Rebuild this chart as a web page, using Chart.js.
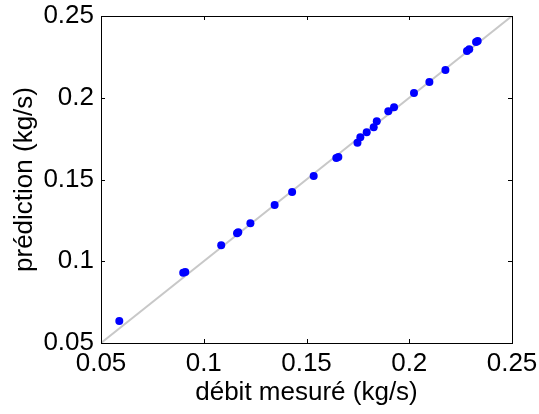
<!DOCTYPE html>
<html lang="fr">
<head>
<meta charset="UTF-8">
<title>prédiction vs débit mesuré</title>
<script src="https://cdn.jsdelivr.net/npm/chart.js"></script>
<style>
    body{margin:0; background:#fff;}
    #wrap{width:539px; height:414px;}
</style>
</head>
<body>
<div id="wrap"><canvas id="myChart" width="539" height="414"></canvas></div>
<script>
// débit mesuré (kg/s) / prédiction (kg/s)
const measured = [0.0589, 0.0900, 0.0910, 0.1085, 0.1162, 0.1168, 0.1227, 0.1345, 0.1430, 0.1535,
                  0.1645, 0.1655, 0.1748, 0.1762, 0.1793, 0.1827, 0.1842, 0.1898, 0.1926, 0.2023,
                  0.2098, 0.2176, 0.2281, 0.2292, 0.2325, 0.2333];
const predicted = [0.0635, 0.0930, 0.0934, 0.1098, 0.1171, 0.1177, 0.1232, 0.1344, 0.1424, 0.1521,
                   0.1632, 0.1638, 0.1725, 0.1758, 0.1789, 0.1819, 0.1856, 0.1917, 0.1942, 0.2029,
                   0.2096, 0.2170, 0.2286, 0.2296, 0.2341, 0.2347];
// droite y = x
const diagX = [0.05, 0.25];
const diagY = [0.05, 0.25];
const tickVals = [0.05, 0.1, 0.15, 0.2, 0.25];
const tickLabels = ['0.05', '0.1', '0.15', '0.2', '0.25'];

const FONT = {family: "'Liberation Sans', Arial, Helvetica, sans-serif", size: 26};

function setTicks(scale){
    scale.ticks = tickVals.map(v => ({value: v}));
}
function tickLabel(v){
    const i = tickVals.findIndex(t => Math.abs(t - v) < 1e-9);
    return i >= 0 ? tickLabels[i] : '';
}

// cadre + graduations vers l'intérieur (style matlab)
const boxPlugin = {
    id: 'box',
    afterDraw(chart){
        const {ctx, chartArea: a, scales} = chart;
        ctx.save();
        ctx.strokeStyle = '#000';
        ctx.lineWidth = 1;
        ctx.strokeRect(Math.round(a.left) + 0.5, Math.round(a.top) + 0.5,
                       Math.round(a.right - a.left), Math.round(a.bottom - a.top));
        ctx.beginPath();
        tickVals.forEach(v => {
            const px = Math.round(scales.x.getPixelForValue(v)) + 0.5;
            ctx.moveTo(px, a.bottom); ctx.lineTo(px, a.bottom - 4);
            ctx.moveTo(px, a.top); ctx.lineTo(px, a.top + 4);
            const py = Math.round(scales.y.getPixelForValue(v)) + 0.5;
            ctx.moveTo(a.left, py); ctx.lineTo(a.left + 4, py);
            ctx.moveTo(a.right, py); ctx.lineTo(a.right - 4, py);
        });
        ctx.stroke();
        ctx.restore();
    }
};

const ctx = document.getElementById('myChart');
new Chart(ctx, {
    type: 'scatter',
    data: {
        datasets: [{
            label: 'prédiction',
            data: measured.map((x, i) => ({x: x, y: predicted[i]})),
            backgroundColor: '#0000ff',
            borderColor: '#0000ff',
            borderWidth: 0,
            pointRadius: 4,
            pointHoverRadius: 4
        }, {
            type: 'line',
            label: 'y = x',
            data: diagX.map((x, i) => ({x: x, y: diagY[i]})),
            borderColor: '#c8c8c8',
            borderWidth: 2,
            pointRadius: 0,
            fill: false
        }]
    },
    options: {
        responsive: false,
        animation: false,
        layout: {padding: {top: 16, right: 27, left: 0, bottom: 0}},
        plugins: {legend: {display: false}, tooltip: {enabled: false}},
        scales: {
            x: {
                type: 'linear', min: 0.05, max: 0.25,
                afterBuildTicks: setTicks,
                afterFit(scale){
                    scale.height = 71;
                    scale.paddingLeft = 0;
                    scale.paddingRight = 0;
                },
                grid: {display: false, drawTicks: false},
                border: {display: false},
                ticks: {color: '#000', font: FONT, padding: 5, maxRotation: 0,
                        callback: v => tickLabel(v)},
                title: {display: true, text: 'débit mesuré (kg/s)', color: '#000',
                        font: FONT, padding: {top: 0, bottom: 6}}
            },
            y: {
                type: 'linear', min: 0.05, max: 0.25,
                afterBuildTicks: setTicks,
                afterFit(scale){
                    scale.width = 101;
                    scale.paddingTop = 0;
                    scale.paddingBottom = 0;
                },
                grid: {display: false, drawTicks: false},
                border: {display: false},
                ticks: {color: '#000', font: FONT, padding: 7,
                        callback: v => tickLabel(v)},
                title: {display: true, text: 'prédiction (kg/s)', color: '#000',
                        font: FONT, padding: {top: 9, bottom: 0}}
            }
        }
    },
    plugins: [boxPlugin]
});
</script>
</body>
</html>
